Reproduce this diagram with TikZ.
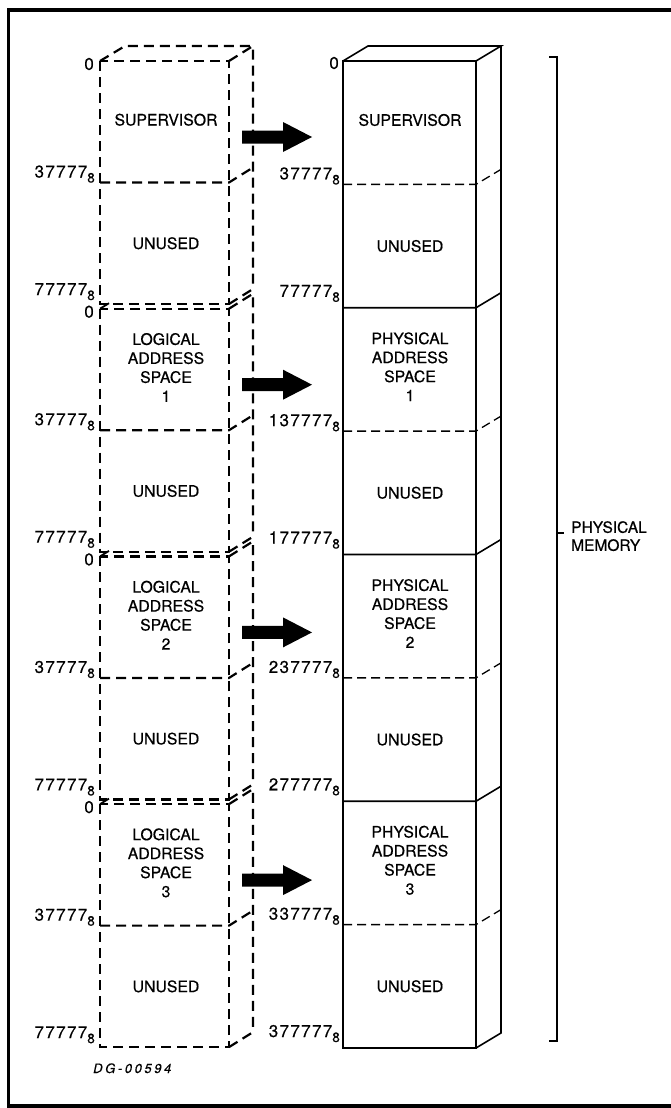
\documentclass[tikz,border=0pt]{standalone}
\usepackage{fontspec}
\setmainfont{TeX Gyre Heros}[FakeBold=0.5]
\newfontfamily\numfam{TeX Gyre Heros}[LetterSpace=8,FakeBold=0.5]
\newfontfamily\tagfam{TeX Gyre Heros}[LetterSpace=20,FakeBold=0.3]
\newcommand{\wordfont}{\fontsize{15.8}{19}\selectfont}
\newcommand{\numfont}{\numfam\fontsize{17}{18}\selectfont}
\newcommand{\oct}[1]{#1\raisebox{-5pt}{\fontsize{13.5}{13.5}\selectfont 8}}
\begin{document}
\begin{tikzpicture}[x=1pt,y=-1pt,
  lg/.style={line width=2.2pt, dash pattern=on 10pt off 6pt},
  ph/.style={line width=1.6pt, line join=miter},
  phd/.style={line width=1.3pt, dash pattern=on 9pt off 5pt},
  lbl/.style={inner sep=0pt, anchor=base east, font=\numfont},
  zero/.style={inner sep=0pt, anchor=east, font=\numfont},
  txt/.style={inner sep=0pt, align=center, font=\wordfont},
  frame/.style={line width=3.5pt}]
\useasboundingbox (0,0) rectangle (671,1108);
% outer frame
\draw[frame] (671,10) -- (8.5,10) -- (8.5,1106) -- (671,1106);

% ---------- logical address spaces (dashed boxes) ----------
\foreach \k/\T/\lt in {0/61/SUPERVISOR,
    1/308.7/{LOGICAL\\ADDRESS\\SPACE\\1},
    2/556.4/{LOGICAL\\ADDRESS\\SPACE\\2},
    3/804.1/{LOGICAL\\ADDRESS\\SPACE\\3}}{
  \pgfmathsetmacro\M{\T+121.5}
  \pgfmathsetmacro\B{\T+243}
  \pgfmathsetmacro\C{\T+76}
  \draw[lg] (100,\T) rectangle (229,\B);
  \draw[lg] (100,\M) -- (229,\M) -- (253,\M-15);
  \draw[lg] (229,\B) -- (253,\B-15);
  \draw[lg] (229,\T) -- (253,\T-15) -- (253,\B-15);
  \node[txt] (ltop\k) at (166,{(\T+\M)/2-2}) {\lt};
  \node[txt] (lunu\k) at (166,{(\M+\B)/2}) {UNUSED};
  \node[zero] (lz\k) at (94,\T+3) {0};
  \node[lbl] (lm\k) at (95,\M-5) {\oct{37777}};
  \node[lbl] (lb\k) at (95,\B-9) {\oct{77777}};
  % block arrow
  \fill (242,\C-6.5) -- (283,\C-6.5) -- (283,\C-15) -- (312,\C)
        -- (283,\C+15) -- (283,\C+6.5) -- (242,\C+6.5) -- cycle;
}
% top face of the first logical box
\draw[lg] (100,61) -- (125,46) -- (253,46);
% short visible stubs of the top faces of the lower boxes
\foreach \T in {308.7,556.4,804.1}{
  \draw[line width=1.8pt] (100,\T) -- (109,\T-5.5);
}

% ---------- physical memory column ----------
\draw[ph] (343,61) rectangle (476,1048);
\draw[ph] (343,61) -- (368,46) -- (501,46) -- (476,61);
\draw[ph] (501,46) -- (501,1033) -- (476,1048);
\foreach \i in {2,4,6}{
  \pgfmathsetmacro\Y{61+123.375*\i}
  \draw[ph] (343,\Y) -- (476,\Y) -- (501,\Y-15);
}
\foreach \i in {1,3,5,7}{
  \pgfmathsetmacro\Y{61+123.375*\i}
  \draw[phd] (343,\Y) -- (476,\Y) -- (501,\Y-15);
}
\foreach \k/\pt in {0/SUPERVISOR,
    1/{PHYSICAL\\ADDRESS\\SPACE\\1},
    2/{PHYSICAL\\ADDRESS\\SPACE\\2},
    3/{PHYSICAL\\ADDRESS\\SPACE\\3}}{
  \pgfmathsetmacro\Pa{61+246.75*\k}
  \node[txt] (ptop\k) at (410,\Pa+59) {\pt};
  \node[txt] (punu\k) at (410,\Pa+185) {UNUSED};
}
\node[zero] (pz) at (339,63) {0};
\foreach \i/\v/\d in {1/37777/5, 2/77777/11, 3/137777/5, 4/177777/11,
                      5/237777/5, 6/277777/11, 7/337777/5, 8/377777/11}{
  \pgfmathsetmacro\Y{61+123.375*\i-\d}
  \node[lbl] (pl\i) at (340,\Y) {\oct{\v}};
}

% ---------- bracket ----------
\coordinate (bt) at (549,57);
\coordinate (bb) at (549,1041);
\draw[line width=1.6pt] (bt) -- (557,57) -- (557,1041) -- (bb);
\draw[line width=1.6pt] (557,533) -- (564,533);
\node[inner sep=0pt, anchor=north west, align=left, font=\fontsize{15.5}{18}\selectfont]
  (pm) at (571,521) {PHYSICAL\\MEMORY};

% ---------- figure tag ----------
\node[inner sep=0pt, anchor=base west, font=\tagfam\itshape\fontsize{13}{13}\selectfont]
  (tag) at (93,1073) {DG-00594};
\end{tikzpicture}
\end{document}
